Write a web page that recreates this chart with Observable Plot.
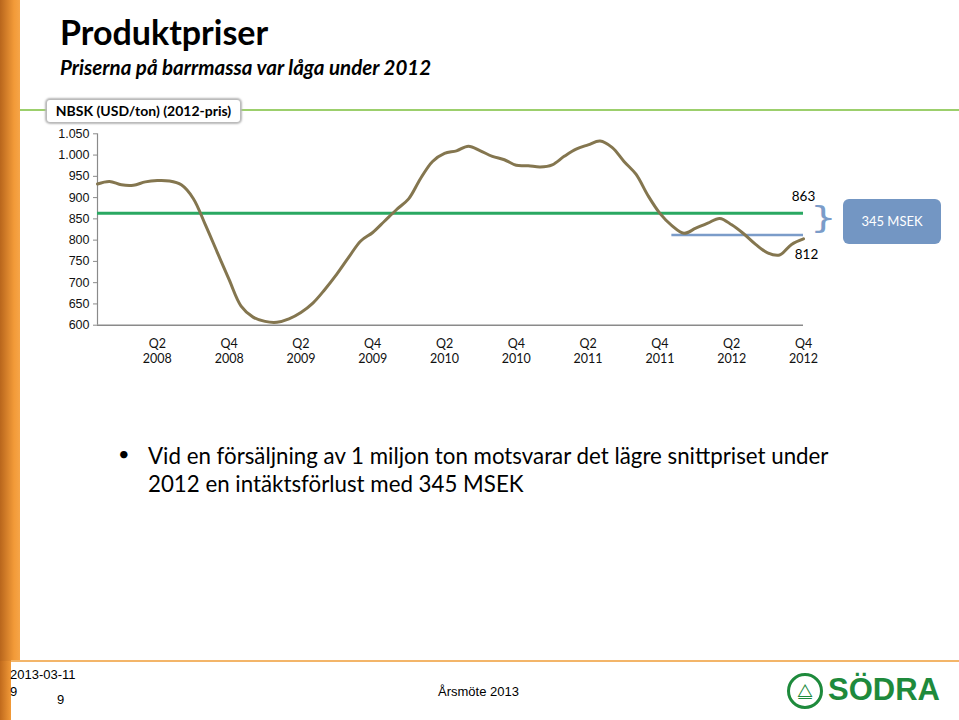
<!DOCTYPE html>
<html>
<head>
<meta charset="utf-8">
<script src="https://cdn.jsdelivr.net/npm/d3@7"></script>
<script src="https://cdn.jsdelivr.net/npm/@observablehq/plot@0.6"></script>
<style>
  html, body { margin: 0; padding: 0; background: #fff; }
  #page { position: relative; width: 959px; height: 720px; overflow: hidden; background: #fff; font-family: Lato, "Noto Sans", sans-serif; }
  #stripe { position: absolute; left: 0; top: 0; width: 20px; height: 661px; background: linear-gradient(to right, #b8661c, #f29a38 70%, #f6a548); }
  #stripe2 { position: absolute; left: 0; top: 661px; width: 11px; height: 59px; background: linear-gradient(to right, #c06a1c, #f29a38); }
  #title { position: absolute; left: 60px; top: 11px; font-weight: 700; font-size: 34px; color: #000; }
  #subtitle { position: absolute; left: 60px; top: 55px; font-weight: 700; font-style: italic; font-size: 20.5px; color: #000; }
  #topline { position: absolute; left: 20px; top: 109px; width: 939px; height: 2px; background: #9ccf6c; }
  #nbsk { position: absolute; left: 47px; top: 100px; width: 193px; height: 22px; background: #fff; border-radius: 3px; box-shadow: 0 0 2px 2px #b8b8b8; font-weight: 700; font-size: 14px; line-height: 22px; text-align: center; color: #000; }
  #chart { position: absolute; left: 0; top: 120px; }
  #brace { position: absolute; left: 810px; top: 203px; font-family: "DejaVu Sans", sans-serif; font-size: 30px; line-height: 30px; color: #7b9cc9; transform: scaleX(1.4); transform-origin: left top; }
  #msek { position: absolute; left: 843px; top: 199px; width: 98px; height: 45px; background: #7396c3; border-radius: 6px; color: #fff; font-size: 13px; line-height: 45px; text-align: center; }
  #bullet { position: absolute; left: 118px; top: 441px; font-size: 20px; color: #000; }
  #bodytext { position: absolute; left: 148px; top: 442px; width: 780px; font-size: 22.3px; line-height: 28px; color: #000; }
  #footline { position: absolute; left: 11px; top: 660px; width: 948px; height: 2px; background: #f3b569; }
  .foot { position: absolute; font-family: "Liberation Sans", Arial, sans-serif; font-size: 13px; color: #000; }
  #logo { position: absolute; left: 787px; top: 673px; width: 30px; height: 30px; border: 3px solid #1e8a3c; border-radius: 50%; color: #1e8a3c; font-size: 18px; line-height: 30px; text-align: center; font-family: "DejaVu Sans", sans-serif; }
  #logotext { position: absolute; left: 828px; top: 672px; font-family: "Liberation Sans", Arial, sans-serif; font-weight: 700; font-size: 31px; line-height: 36px; color: #1e8a3c; }
</style>
</head>
<body>
<div id="page">
  <div id="stripe"></div>
  <div id="stripe2"></div>
  <div id="title">Produktpriser</div>
  <div id="subtitle">Priserna på barrmassa var låga under 2012</div>
  <div id="topline"></div>
  <div id="nbsk">NBSK (USD/ton) (2012-pris)</div>
  <div id="chart"></div>
  <div id="brace">}</div>
  <div id="msek">345 MSEK</div>
  <div id="bullet">•</div>
  <div id="bodytext">Vid en försäljning av 1 miljon ton motsvarar det lägre snittpriset under<br>2012 en intäktsförlust med 345 MSEK</div>
  <div id="footline"></div>
  <div class="foot" style="left:10px; top:667px;">2013-03-11</div>
  <div class="foot" style="left:10px; top:684px;">9</div>
  <div class="foot" style="left:57px; top:692px;">9</div>
  <div class="foot" style="left:438px; top:684px;">Årsmöte 2013</div>
  <div id="logo">⧋</div>
  <div id="logotext">SÖDRA</div>
</div>
<script>
// Monthly NBSK price (USD/ton, 2012 prices), Jan 2008 .. Dec 2012 (month index 0..59)
const months = d3.range(60);
const price = [
  932, 938, 930, 929, 937, 940, 939, 930, 898, 837, 772, 707,
  645, 619, 609, 607, 615, 630, 652, 684, 720, 760, 798, 818,
  845, 872, 897, 945, 985, 1004, 1010, 1021, 1010, 997, 989, 976,
  975, 972, 977, 997, 1014, 1024, 1033, 1018, 985, 955, 905, 863,
  834, 816, 828, 840, 851, 836, 815, 790, 770, 765, 790, 803
];
// Reference averages
const avgLevels = [863, 812];            // average price reference, 2012 average
const avgStart = [0, 48];                // month index where each reference line starts
const avgEnd = [59, 59];
// Axis ticks
const xTicks = [5, 11, 17, 23, 29, 35, 41, 47, 53, 59];
const xTickLabels = ["Q2\n2008", "Q4\n2008", "Q2\n2009", "Q4\n2009", "Q2\n2010", "Q4\n2010", "Q2\n2011", "Q4\n2011", "Q2\n2012", "Q4\n2012"];
const yTicks = [600, 650, 700, 750, 800, 850, 900, 950, 1000, 1050];

const xLabelMap = new Map(xTicks.map((t, i) => [t, xTickLabels[i]]));
const yFmt = d => d3.format(",")(d).replace(",", ".");

const refs = avgLevels.map((v, i) => ({v, x1: avgStart[i], x2: avgEnd[i]}));

const chart = Plot.plot({
  width: 959,
  height: 260,
  marginLeft: 97,
  marginRight: 156,
  marginTop: 13.3,
  marginBottom: 55.3,
  x: {domain: [0, 59]},
  y: {domain: [600, 1050]},
  style: {background: "transparent", overflow: "visible", color: "#111"},
  marks: [
    Plot.ruleY([600], {stroke: "#8a8a8a", strokeWidth: 1.5}),
    Plot.ruleX([0], {y1: 600, y2: 1050, stroke: "#8a8a8a", strokeWidth: 1.2}),
    Plot.axisY({ticks: yTicks, tickFormat: yFmt, tickSize: 4, tickPadding: 4, stroke: "#8a8a8a", fontSize: 12.5, fontFamily: "Liberation Sans, Arial, sans-serif", label: null}),
    Plot.axisX({ticks: xTicks, tickFormat: d => xLabelMap.get(d), tickSize: 0, tickPadding: 12, lineHeight: 1.2, fontSize: 12.5, fontFamily: "Lato, sans-serif", label: null}),
    Plot.ruleY([refs[0]], {y: "v", x1: "x1", x2: "x2", stroke: "#2aa862", strokeWidth: 3}),
    Plot.ruleY([refs[1]], {y: "v", x1: "x1", x2: "x2", stroke: "#7b9cc9", strokeWidth: 2.5}),
    Plot.line(months, {x: d => d, y: (d, i) => price[i], curve: "catmull-rom", stroke: "#84764f", strokeWidth: 3}),
    Plot.text([refs[0]], {x: "x2", y: "v", text: d => String(d.v), dy: -17, fontSize: 13.5, fontFamily: "Lato, sans-serif", fill: "#000"}),
    Plot.text([refs[1]], {x: "x2", y: "v", text: d => String(d.v), dx: 3, dy: 20, fontSize: 13.5, fontFamily: "Lato, sans-serif", fill: "#000"})
  ]
});
document.getElementById("chart").appendChild(chart);
</script>
</body>
</html>
